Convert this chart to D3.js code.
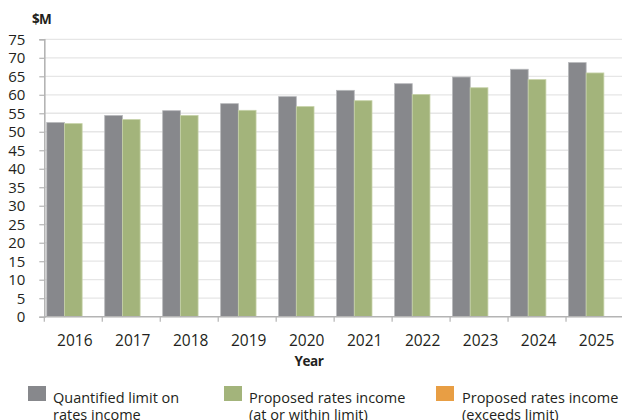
<!DOCTYPE html>
<html>
<head>
<meta charset="utf-8">
<script src="https://cdn.jsdelivr.net/npm/d3@7"></script>
<style>
  html, body { margin: 0; padding: 0; background: #ffffff; }
  svg { display: block; }
  text { font-family: "Open Sans", "Noto Sans", sans-serif; fill: #231f20; }
</style>
</head>
<body>
<svg id="chart" width="622" height="420"></svg>
<script>
// Rates income by year ($M)
const years = ["2016", "2017", "2018", "2019", "2020", "2021", "2022", "2023", "2024", "2025"];
const quantifiedLimit = [52.5, 54.4, 55.7, 57.6, 59.5, 61.2, 63.0, 64.8, 66.9, 68.7];
const proposedWithin  = [52.2, 53.3, 54.4, 55.8, 56.8, 58.4, 60.1, 61.9, 64.1, 65.9];
const proposedExceeds = [0, 0, 0, 0, 0, 0, 0, 0, 0, 0];
const seriesNames = ["Quantified limit on|rates income", "Proposed rates income|(at or within limit)", "Proposed rates income|(exceeds limit)"];
const seriesColors = ["#87888c", "#a3b47b", "#e89e44"];
const seriesStrokes = ["#b7b8bb", "#c6d2a8", "#f0c08a"];
const yTicks = [0, 5, 10, 15, 20, 25, 30, 35, 40, 45, 50, 55, 60, 65, 70, 75];

const seriesValues = [quantifiedLimit, proposedWithin, proposedExceeds];
const rows = years.map((yr, i) => ({ year: yr, values: seriesValues.map(s => s[i]) }));

const svg = d3.select("#chart");
const plot = { left: 44.3, right: 624, top: 39.3, bottom: 316.7 };

const x0 = d3.scaleBand().domain(years).range([plot.left, plot.right]).padding(0);
const bw = x0.bandwidth();
const x1 = d3.scaleBand().domain(d3.range(seriesValues.length)).range([bw * 0.042, bw * 0.958]).padding(0);
const y = d3.scaleLinear().domain([0, 75]).range([plot.bottom, plot.top]);

// horizontal gridlines
svg.append("g").selectAll("line").data(yTicks.filter(d => d > 0)).join("line")
  .attr("x1", plot.left).attr("x2", 622)
  .attr("y1", d => y(d)).attr("y2", d => y(d))
  .attr("stroke", "#e6e6e6").attr("stroke-width", 1.3);

// bars
const groups = svg.append("g").selectAll("g").data(rows).join("g")
  .attr("transform", d => `translate(${x0(d.year)},0)`);
groups.selectAll("rect").data(d => d.values.map((v, k) => ({ v, k }))).join("rect")
  .filter(d => d.v > 0)
  .attr("x", d => x1(d.k))
  .attr("width", x1.bandwidth())
  .attr("y", d => y(d.v))
  .attr("height", d => y(0) - y(d.v))
  .attr("fill", d => seriesColors[d.k])
  .attr("stroke", d => seriesStrokes[d.k])
  .attr("stroke-width", 0.8);

// y axis
const yAxis = svg.append("g")
  .attr("transform", `translate(${plot.left},0)`)
  .call(d3.axisLeft(y).tickValues(yTicks).tickSize(5).tickPadding(14));
yAxis.select(".domain").attr("stroke", "#b4b4b4").attr("stroke-width", 1.6);
yAxis.selectAll(".tick line").attr("stroke", "#b4b4b4").attr("stroke-width", 1.2);
yAxis.selectAll(".tick text")
  .attr("font-family", "Open Sans, Noto Sans, sans-serif")
  .attr("font-size", 15).attr("fill", "#231f20");

// x axis line with boundary ticks
svg.append("line")
  .attr("x1", plot.left).attr("x2", 622)
  .attr("y1", y(0)).attr("y2", y(0))
  .attr("stroke", "#b4b4b4").attr("stroke-width", 1.4);
svg.append("g").selectAll("line").data(years).join("line")
  .attr("x1", d => x0(d)).attr("x2", d => x0(d))
  .attr("y1", y(0)).attr("y2", y(0) + 5)
  .attr("stroke", "#b4b4b4").attr("stroke-width", 1.2);

const xAxis = svg.append("g")
  .attr("transform", `translate(0,${y(0)})`)
  .call(d3.axisBottom(x0).tickSize(0).tickPadding(18));
xAxis.select(".domain").remove();
xAxis.selectAll(".tick text")
  .attr("font-family", "Open Sans, Noto Sans, sans-serif")
  .attr("font-size", 15.5).attr("fill", "#231f20")
  .attr("dx", 1.5);

// axis titles
svg.append("text").attr("x", 32).attr("y", 23.5)
  .attr("font-size", 13.5).attr("font-weight", "bold").attr("letter-spacing", -0.6)
  .text("$M");
svg.append("text").attr("x", 309).attr("y", 366).attr("text-anchor", "middle")
  .attr("font-size", 13.5).attr("font-weight", "bold").attr("letter-spacing", -0.4)
  .text("Year");

// legend
const legendX = [28, 224, 436];
const legend = svg.append("g").selectAll("g").data(seriesNames).join("g")
  .attr("transform", (d, i) => `translate(${legendX[i]},386)`);
legend.append("rect").attr("width", 18).attr("height", 15)
  .attr("fill", (d, i) => seriesColors[i]);
legend.append("text").attr("x", (d, i) => i === 2 ? 26 : 25).attr("y", 17)
  .attr("font-size", 14.5)
  .selectAll("tspan").data(d => d.split("|")).join("tspan")
  .attr("x", function () { return d3.select(this.parentNode).attr("x"); })
  .attr("dy", (d, j) => j === 0 ? 0 : 17)
  .text(d => d);
</script>
</body>
</html>
